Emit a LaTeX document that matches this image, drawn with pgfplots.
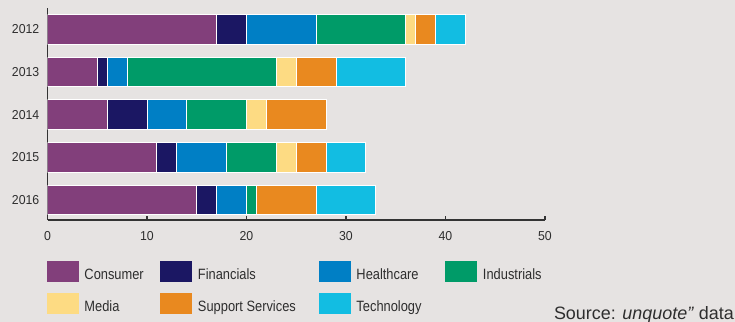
\documentclass[border=0pt]{standalone}
\usepackage{fontspec}
\setmainfont{Liberation Sans}
\newfontfamily\condfont{Liberation Sans}[FakeStretch=0.86]
\newfontfamily\tickfont{Liberation Sans}[FakeStretch=0.95]
\usepackage{pgfplots}
\pgfplotsset{compat=1.18}
\definecolor{bg}{HTML}{E6E3E2}
\definecolor{txt}{HTML}{2E2E2E}
\definecolor{axisgray}{HTML}{333333}
\definecolor{cons}{HTML}{823F7B}
\definecolor{fin}{HTML}{1B1763}
\definecolor{hlth}{HTML}{007FC5}
\definecolor{ind}{HTML}{009B68}
\definecolor{med}{HTML}{FDDB83}
\definecolor{sup}{HTML}{E9891F}
\definecolor{tech}{HTML}{12BDE2}
\newcommand{\lcA}[1]{\makebox[76bp][l]{#1}}
\newcommand{\lcB}[1]{\makebox[121bp][l]{#1}}
\newcommand{\lcC}[1]{\makebox[89bp][l]{#1}}
\begin{document}
\begin{tikzpicture}
\useasboundingbox (0,0) rectangle (735bp,322bp);
\fill[bg] (0,0) rectangle (735bp,322bp);
\begin{axis}[
  at={(47.5bp,102bp)}, anchor=south west,
  scale only axis, width=497.5bp, height=212bp,
  xbar stacked, bar width=29.5bp,
  xmin=0, xmax=50, ymin=-0.47, ymax=4.505,
  axis x line=bottom, axis y line=left,
  axis line style={-, line width=1.4bp, draw=axisgray},
  xtick={0,10,20,30,40,50}, ytick={0,1,2,3,4},
  yticklabels={2016,2015,2014,2013,2012},
  tick align=inside, major tick length=4bp,
  ytick style={draw=none},
  xtick style={line width=1.4bp, draw=axisgray},
  /pgf/number format/assume math mode=true,
  ticklabel style={font=\tickfont\fontsize{13}{13}\selectfont, text=txt, inner sep=0pt},
  xticklabel shift=11bp, yticklabel shift=8bp,
  legend columns=4,
  legend image code/.code={\fill[#1,draw=none] (0bp,-2.5bp) rectangle (32bp,18.5bp); \path (37bp,0bp);},
  legend style={at={(-0.001,-0.1934)}, anchor=north west, draw=none, fill=none,
    inner sep=0pt, outer sep=0pt, row sep=11.3bp,
    cells={anchor=base west},
    nodes={inner sep=0pt, font=\condfont\fontsize{15}{15}\selectfont, text=txt}},
  every axis plot/.append style={draw=white, line width=1bp},
]
\addplot[fill=cons] coordinates {(15,0) (11,1) (6,2) (5,3) (17,4)};
\addplot[fill=fin]  coordinates {(2,0) (2,1) (4,2) (1,3) (3,4)};
\addplot[fill=hlth] coordinates {(3,0) (5,1) (4,2) (2,3) (7,4)};
\addplot[fill=ind]  coordinates {(1,0) (5,1) (6,2) (15,3) (9,4)};
\addplot[fill=med]  coordinates {(0,0) (2,1) (2,2) (2,3) (1,4)};
\addplot[fill=sup]  coordinates {(6,0) (3,1) (6,2) (4,3) (2,4)};
\addplot[fill=tech] coordinates {(6,0) (4,1) (0,2) (7,3) (3,4)};
\legend{\lcA{Consumer}, \lcB{Financials}, \lcC{Healthcare}, Industrials, \lcA{Media}, \lcB{Support Services}, \lcC{Technology}}
\end{axis}
\node[anchor=base east, font=\fontsize{18}{18}\selectfont, text=txt, inner sep=0pt] at (734bp,3bp) {Source: \textit{unquote”} data};
\end{tikzpicture}
\end{document}
